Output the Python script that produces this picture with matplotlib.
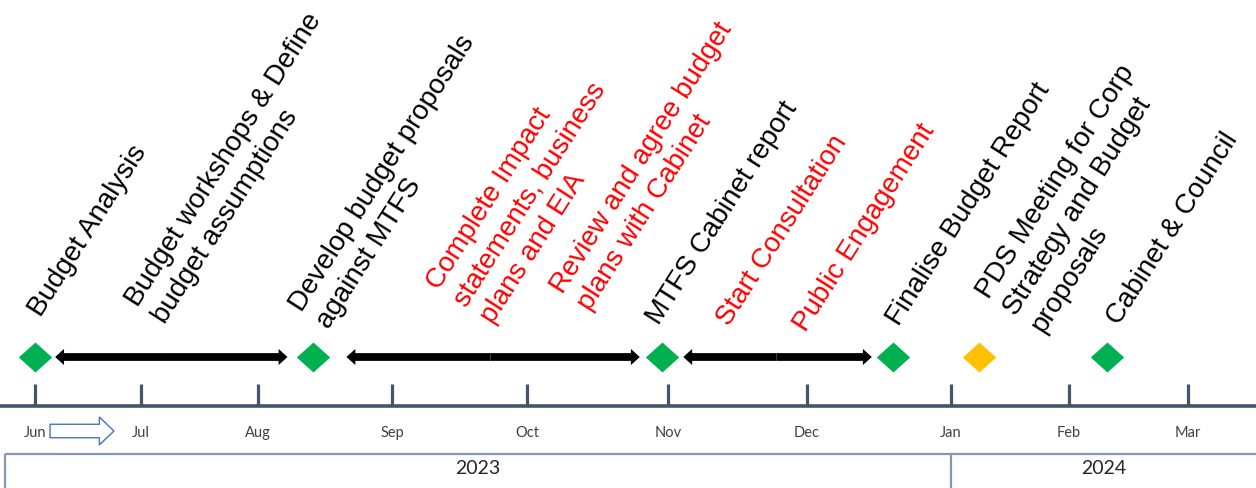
import numpy as np
import matplotlib
matplotlib.use("Agg")
import matplotlib.pyplot as plt

# --- data ---------------------------------------------------------------
months = ["Jun", "Jul", "Aug", "Sep", "Oct", "Nov", "Dec", "Jan", "Feb", "Mar"]
years = ["2023", "2024"]
year_start_month = 7          # index of "Jan" -> 2024 starts here

# milestones, in month units (0 = start of Jun)
milestone_month = [0.0, 2.41, 4.96, 6.60, 7.24, 8.32]
milestone_kind = ["done", "done", "done", "done", "pending", "done"]

# activity spans (double headed arrows), in month units
span_start = [0.19, 2.66, 5.11]
span_end = [2.22, 4.80, 6.45]

labels = [
    "Budget Analysis",
    "Budget workshops & Define\nbudget assumptions",
    "Develop budget proposals\nagainst MTFS",
    "Complete Impact\nstatements, business\nplans and EIA",
    "Review and agree budget\nplans with Cabinet",
    "MTFS Cabinet report",
    "Start Consultation",
    "Public Engagement",
    "Finalise Budget Report",
    "PDS Meeting for Corp\nStrategy and Budget\nproposals",
    "Cabinet & Council",
]
label_red = [False, False, False, True, True, False, True, True, False, False, False]

# --- layout / style -------------------------------------------------------
W, H = 1256, 488
tick_px = [35, 141, 258, 392, 527, 668, 807, 951, 1069, 1188]   # hand drawn month spacing
knots_m = np.r_[-0.33, np.arange(len(months)), 9.57]
knots_px = np.r_[0, tick_px, W]


def fwd(x):
    return np.interp(x, knots_m, knots_px)


def inv(p):
    return np.interp(p, knots_px, knots_m)


# baseline start of the last line of every label, in pixels
label_xy = [(41, 318), (160, 322), (324, 327), (488, 322), (585, 309), (659, 326),
            (729, 327), (806, 333), (899, 327), (1038, 331), (1119, 326)]

kind_color = {"done": "#00B050", "pending": "#FFC000"}
axis_color = "#44546A"
box_color = "#8497B0"
y_arrow = 357
y_axis = 406

fig = plt.figure(figsize=(W / 100, H / 100), dpi=100)
ax = fig.add_axes([0, 0, 1, 1])
ax.set_xscale("function", functions=(fwd, inv))
ax.set_xlim(knots_m[0], knots_m[-1])
ax.set_ylim(H, 0)
ax.axis("off")

# timeline axis with month ticks
ax.hlines(y_axis, knots_m[0], knots_m[-1], color=axis_color, lw=2.6)
ax.vlines(np.arange(len(months)), 384, y_axis, color=axis_color, lw=2.3)
for i, m in enumerate(months):
    ax.text(i, 433, m, ha="center", va="center", fontsize=10.5,
            family="Lato", color="#404040")

# "Jun ->" hollow arrow
ax.annotate("", xy=(0.745, 431), xytext=(0.142, 431),
            arrowprops=dict(arrowstyle="simple,head_length=1.05,head_width=2.0,tail_width=0.97",
                            fc="white", ec="#4472C4", lw=1, shrinkA=0, shrinkB=0,
                            mutation_scale=10))

# year boxes
box_left = inv(5)
ax.hlines(454, box_left, knots_m[-1], color=box_color, lw=1.6)
ax.vlines([box_left, year_start_month], 454, H, color=box_color, lw=1.6)
bounds = [box_left, year_start_month, knots_m[-1]]
for k, yr in enumerate(years):
    xc = inv((fwd(bounds[k]) + fwd(bounds[k + 1])) / 2)
    ax.text(xc, 469, yr, ha="center", va="center", fontsize=14,
            family="Lato", color="#262626")

# activity spans: two single headed halves meeting in the middle
arrow_style = "simple,head_length=0.64,head_width=1.16,tail_width=0.56"
for a, b in zip(span_start, span_end):
    mid = (a + b) / 2
    for tip in (a, b):
        ax.annotate("", xy=(tip, y_arrow), xytext=(mid, y_arrow),
                    arrowprops=dict(arrowstyle=arrow_style, fc="black", ec="black",
                                    lw=0, shrinkA=0, shrinkB=0, mutation_scale=10))

# milestones
diamond = [(-1, 0), (0, 0.9), (1, 0), (0, -0.9)]
for m, kind in zip(milestone_month, milestone_kind):
    ax.plot(m, y_arrow, marker=diamond, ms=24, color=kind_color[kind], mec="none")

# rotated labels
for text, red, (px, py) in zip(labels, label_red, label_xy):
    fig.text(px / W, 1 - py / H, text, rotation=57.5, rotation_mode="anchor",
             ha="left", va="baseline", fontsize=20, family="Liberation Sans",
             color="#FF0000" if red else "black", linespacing=1.3)

fig.savefig("out.png", dpi=100)
